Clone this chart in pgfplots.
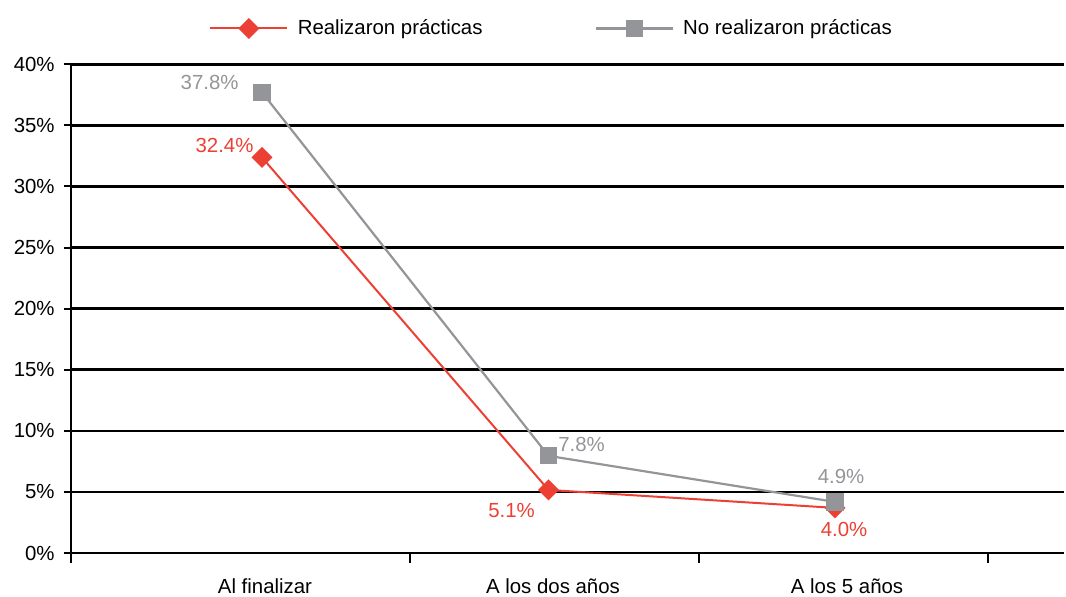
\documentclass[border=0pt]{standalone}
\usepackage{fontspec}
\setmainfont{Liberation Sans}
\usepackage{pgfplots}
\pgfplotsset{compat=1.18}
\definecolor{rojo}{RGB}{237,64,53}
\definecolor{gris}{RGB}{147,149,152}
\begin{document}
\begin{tikzpicture}
\begin{axis}[%
at={(0pt,0pt)}, anchor=south west,
width=496.65pt,
height=244.35pt,
scale only axis,
clip=false,
font=\fontsize{10.2}{12}\selectfont,
/pgf/number format/assume math mode=true,
xmin=0.3323, xmax=3.7993,
ymin=0, ymax=40,
axis x line*=bottom,
axis y line*=left,
axis line style={black, line width=1pt, -},
x axis line style={line width=1.25pt},
ytick={0,5,...,40},
yticklabels={0\%,5\%,10\%,15\%,20\%,25\%,30\%,35\%,40\%},
ymajorgrids,
major grid style={black, line width=1.25pt},
y tick style={black, line width=1pt},
tick align=outside,
major tick length=3.5pt,
yticklabel style={anchor=east, xshift=-1pt},
xtick={1.0105,2.0157,3.042},
xticklabels={Al finalizar, A los dos años, A los 5 años},
x tick style={draw=none},
xticklabel style={anchor=north, yshift=-6pt},
extra x ticks={0.3323,1.5166,2.5253,3.534},
extra x tick labels={},
extra x tick style={grid=none, major tick length=5pt, x tick style={draw=black, line width=1pt}},
legend columns=2,
legend style={at={(0.1392,1.0733)}, anchor=west, draw=none, fill=none, inner sep=0pt,
  font=\fontsize{10.2}{12}\selectfont,
  /tikz/every odd column/.append style={column sep=2.7pt},
  /tikz/every even column/.append style={column sep=54pt}},
legend image code/.code={\draw[mark repeat=2,mark phase=2,#1] plot coordinates {(0pt,0pt) (19.25pt,0pt) (38.5pt,0pt)};},
]

\addplot[
color=rojo,
line width=1pt,
mark=square*,
mark size=3.2pt,
mark options={rotate=45, solid, fill=rojo, draw=rojo},
point meta=explicit symbolic,
nodes near coords={\pgfplotspointmeta\%},
visualization depends on={\thisrow{dx}\as\dx},
visualization depends on={\thisrow{dy}\as\dy},
every node near coord/.append style={text=rojo, anchor=center, xshift=\dx pt, yshift=\dy pt, font=\fontsize{10.2}{12}\selectfont}
]
table[x=x, y=y, meta=lab]{
x y dx dy lab
1 32.38 -18.75 6 32.4
2 5.16 -18.5 -10.5 5.1
3 3.69 4.5 -11 4.0
};
\addlegendentry{Realizaron prácticas}

\addplot[
color=gris,
line width=1.1pt,
mark=square*,
mark size=3.75pt,
mark options={solid, fill=gris, draw=gris},
point meta=explicit symbolic,
nodes near coords={\pgfplotspointmeta\%},
visualization depends on={\thisrow{dx}\as\dx},
visualization depends on={\thisrow{dy}\as\dy},
every node near coord/.append style={text=gris, anchor=center, xshift=\dx pt, yshift=\dy pt, font=\fontsize{10.2}{12}\selectfont}
]
table[x=x, y=y, meta=lab]{
x y dx dy lab
1 37.7 -26.2 5 37.8
2 7.95 16.5 5.5 7.8
3 4.18 3 12.5 4.9
};
\addlegendentry{No realizaron prácticas}

\end{axis}
\pgfresetboundingbox
\path[use as bounding box] (-35.35pt,-22pt) rectangle (497.65pt,276.5pt);
\end{tikzpicture}
\end{document}
